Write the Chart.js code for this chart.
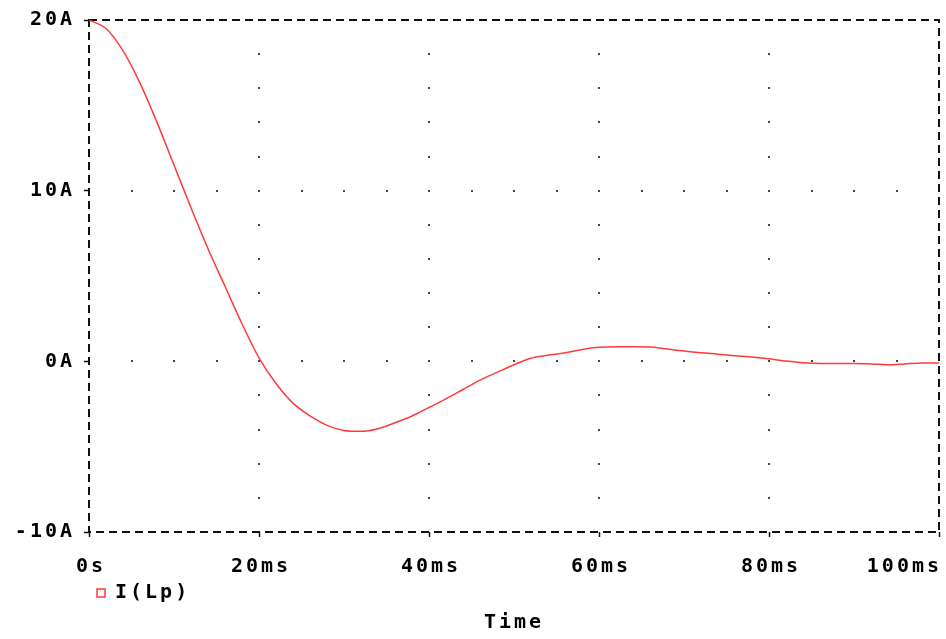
<!DOCTYPE html>
<html>
<head>
<meta charset="utf-8">
<script src="https://cdn.jsdelivr.net/npm/chart.js@4/dist/chart.umd.min.js"></script>
<style>
  html, body { margin: 0; padding: 0; background: #fff; }
  #wrap { width: 946px; height: 639px; }
</style>
</head>
<body>
<div id="wrap"><canvas id="chart"></canvas></div>
<script>
// Transient response of I(Lp)
const timeMs = [0, 2, 4, 6, 8, 10, 12, 14, 16, 18, 20, 22, 24, 26, 28, 30, 32, 34, 36, 38, 40,
  42, 44, 46, 48, 50, 52, 54, 56, 58, 60, 62, 64, 66, 68, 70, 72, 74, 76, 78, 80,
  82, 84, 86, 88, 90, 92, 94, 96, 98, 100];
const currentA = [20.0, 19.5, 18.2, 16.3, 14.0, 11.5, 9.0, 6.6, 4.4, 2.2, 0.2, -1.3, -2.45, -3.2, -3.75, -4.05, -4.1, -3.95, -3.6, -3.2, -2.7,
  -2.2, -1.65, -1.1, -0.65, -0.2, 0.18, 0.35, 0.5, 0.7, 0.82, 0.85, 0.85, 0.84, 0.72, 0.6, 0.5, 0.42, 0.33, 0.25, 0.15,
  0.02, -0.08, -0.12, -0.12, -0.12, -0.15, -0.2, -0.15, -0.1, -0.1];

const xTickValues = [0, 20, 40, 60, 80, 100];
const xTickLabels = ["0s", "20ms", "40ms", "60ms", "80ms", "100ms"];
const yTickLabel = (v) => v + "A";

// dotted grid: major lines and the dot positions along them
const xGridMs = [20, 40, 60, 80];
const yDotA = [-8, -6, -4, -2, 0, 2, 4, 6, 8, 10, 12, 14, 16, 18];
const yGridA = [0, 10];
const xDotMs = [5, 10, 15, 20, 25, 30, 35, 40, 45, 50, 55, 60, 65, 70, 75, 80, 85, 90, 95];

const FONT = "'DejaVu Sans Mono', 'Liberation Mono', monospace";

const psPlot = {
  id: "psPlot",
  beforeDraw(chart) {
    chart.ctx.letterSpacing = "3px";
  },
  beforeDatasetsDraw(chart) {
    const { ctx, chartArea: a, scales: { x, y } } = chart;
    ctx.save();
    ctx.fillStyle = "#444";
    for (const gx of xGridMs) {
      const px = x.getPixelForValue(gx);
      for (const v of yDotA) ctx.fillRect(Math.round(px) - 1, Math.round(y.getPixelForValue(v)) - 1, 2, 2);
    }
    for (const gy of yGridA) {
      const py = y.getPixelForValue(gy);
      for (const v of xDotMs) ctx.fillRect(Math.round(x.getPixelForValue(v)) - 1, Math.round(py) - 1, 2, 2);
    }
    ctx.setLineDash([8, 5]);
    ctx.lineWidth = 2;
    ctx.strokeStyle = "#111";
    ctx.strokeRect(a.left, a.top, a.right - a.left, a.bottom - a.top);
    ctx.restore();
  },
  afterDraw(chart) {
    const { ctx, chartArea: a, scales: { x } } = chart;
    ctx.save();
    ctx.letterSpacing = "3px";
    ctx.font = "bold 20px " + FONT;
    ctx.fillStyle = "#000";
    ctx.textBaseline = "alphabetic";
    xTickValues.forEach((v, i) => {
      const last = i === xTickValues.length - 1;
      ctx.textAlign = last ? "right" : "center";
      const px = last ? a.right + 3 : x.getPixelForValue(v) + 2;
      ctx.fillText(xTickLabels[i], px, a.bottom + 40);
    });
    ctx.restore();
  },
};

new Chart(document.getElementById("chart"), {
  type: "line",
  data: {
    datasets: [{
      label: "I(Lp)",
      data: timeMs.map((t, i) => ({ x: t, y: currentA[i] })),
      borderColor: "#ff3b3b",
      backgroundColor: "rgba(0,0,0,0)",
      borderWidth: 1.5,
      pointRadius: 0,
      tension: 0.4,
      cubicInterpolationMode: "monotone",
      fill: false,
    }],
  },
  options: {
    responsive: true,
    maintainAspectRatio: false,
    animation: false,
    layout: { padding: { top: 20, right: 7, left: 0, bottom: 0 } },
    plugins: {
      legend: {
        position: "bottom",
        align: "start",
        fullSize: false,
        labels: {
          usePointStyle: true,
          pointStyle: "rect",
          boxWidth: 8,
          boxHeight: 8,
          padding: 8,
          color: "#000",
          font: { family: FONT, size: 20, weight: "bold" },
        },
      },
      title: {
        display: true,
        text: "Time",
        position: "bottom",
        fullSize: false,
        color: "#000",
        font: { family: FONT, size: 20, weight: "bold", lineHeight: 1 },
        padding: { top: 0, bottom: 6 },
      },
      tooltip: { enabled: false },
    },
    scales: {
      x: {
        type: "linear",
        min: 0,
        max: 100,
        border: { display: false },
        grid: { display: true, drawOnChartArea: false, drawTicks: true, tickLength: 5, tickColor: "#111", tickWidth: 1.5 },
        ticks: { display: false, stepSize: 20 },
        afterFit: (axis) => { axis.height = 43; axis.paddingLeft = 0; axis.paddingRight = 0; },
      },
      y: {
        min: -10,
        max: 20,
        border: { display: false },
        grid: { display: true, drawOnChartArea: false, drawTicks: true, tickLength: 5, tickColor: "#111", tickWidth: 1.5 },
        ticks: {
          stepSize: 10,
          padding: 9,
          color: "#000",
          font: { family: FONT, size: 20, weight: "bold" },
          callback: yTickLabel,
        },
        afterFit: (axis) => { axis.width = 89; axis.paddingTop = 0; axis.paddingBottom = 0; },
      },
    },
  },
  plugins: [psPlot],
});
</script>
</body>
</html>
